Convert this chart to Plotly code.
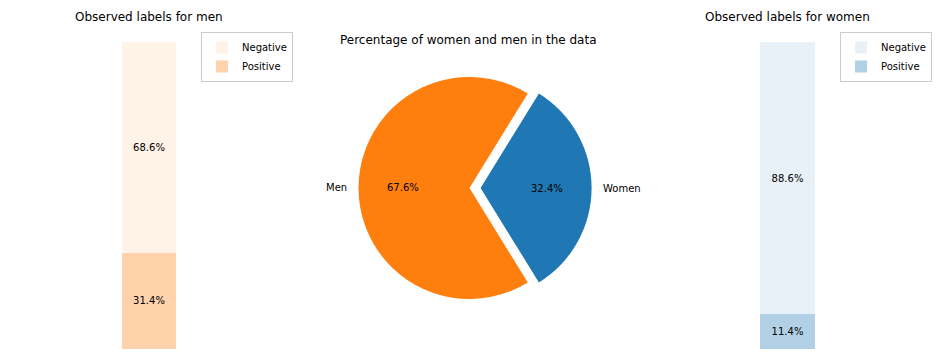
import math
import plotly.graph_objects as go

# ---------------- data ----------------
label_names = ["Negative", "Positive"]
men_label_pct = [68.6, 31.4]
women_label_pct = [88.6, 11.4]
pie_labels = ["Women", "Men"]
pie_pct = [32.4, 67.6]

title_men = "Observed labels for men"
title_women = "Observed labels for women"
title_pie = "Percentage of women and men in the data"

# ---------------- styles ----------------
W, H = 936, 360
FONT = "DejaVu Sans"
orange = (255, 127, 14)
blue = (31, 119, 180)
alphas = {"Negative": 0.1, "Positive": 0.35}


def rgba(c, a):
    return f"rgba({c[0]},{c[1]},{c[2]},{a})"


def px_x(p):
    return p / W


def px_y(p):
    return 1 - p / H


fig = go.Figure()

panels = [("", men_label_pct, orange, "legend"),
          ("2", women_label_pct, blue, "legend2")]

for suffix, vals, col, leg in panels:
    # bottom segment first (Positive), then Negative on top
    for idx in (1, 0):
        name = label_names[idx]
        fig.add_trace(go.Bar(
            x=[0], y=[vals[idx]], name=name,
            width=0.8,
            marker=dict(color=rgba(col, alphas[name]), line=dict(width=0)),
            text=[f"{vals[idx]:.1f}%"], textposition="inside",
            insidetextanchor="middle", textangle=0,
            insidetextfont=dict(color="black", size=10, family=FONT),
            xaxis="x" + suffix, yaxis="y" + suffix,
            legend=leg, legendrank=idx + 1,
            hoverinfo="skip",
        ))

# pie geometry (px)
pie_cx, pie_cy = 469.5, 188.0
pull = 0.1
box_half = 122.1
pie_r = box_half / (1 + pull)

women_frac = pie_pct[0] / 100.0
rotation = 90 - women_frac * 180

fig.add_trace(go.Pie(
    labels=pie_labels, values=pie_pct, sort=False,
    direction="clockwise", rotation=rotation,
    pull=[pull, 0],
    marker=dict(colors=[rgba(blue, 1), rgba(orange, 1)], line=dict(width=0)),
    textinfo="none", showlegend=False, hoverinfo="skip",
    domain=dict(x=[px_x(pie_cx - box_half), px_x(pie_cx + box_half)],
                y=[px_y(pie_cy + box_half), px_y(pie_cy - box_half)]),
))

# pie text annotations (labels at 1.1 r, pct at 0.6 r)
annotations = []
start = -women_frac * 180  # math angle, counterclockwise
cum = 0.0
ann_base = dict(xref="paper", yref="paper", showarrow=False,
                borderpad=0, borderwidth=0)
for lab, v, pl in zip(pie_labels, pie_pct, [pull, 0]):
    frac = v / 100.0
    mid = math.radians(start + (cum + frac / 2) * 360)
    cum += frac
    ox = pie_cx + pl * pie_r * math.cos(mid)
    oy = pie_cy - pl * pie_r * math.sin(mid)
    lx = ox + 1.1 * pie_r * math.cos(mid)
    ly = oy - 1.1 * pie_r * math.sin(mid)
    tx = ox + 0.6 * pie_r * math.cos(mid)
    ty = oy - 0.6 * pie_r * math.sin(mid)
    annotations.append(dict(
        x=px_x(lx), y=px_y(ly), text=lab,
        xanchor="left" if math.cos(mid) > 0 else "right",
        yanchor="middle", font=dict(size=10, color="black", family=FONT),
        **ann_base))
    annotations.append(dict(
        x=px_x(tx), y=px_y(ty), text=f"{v:.1f}%",
        xanchor="center", yanchor="middle",
        font=dict(size=10, color="black", family=FONT), **ann_base))

for t, cx, cy in [(title_men, 149, 17), (title_women, 787.5, 17), (title_pie, 468, 40)]:
    annotations.append(dict(
        x=px_x(cx), y=px_y(cy), text=t,
        xanchor="center", yanchor="middle",
        font=dict(size=12, color="black", family=FONT), **ann_base))

ydom = [px_y(349), px_y(42)]
axis_off = dict(visible=False, showgrid=False, zeroline=False, fixedrange=True)
legend_style = dict(bgcolor="white", bordercolor="#cccccc", borderwidth=1,
                    font=dict(size=10, color="black", family=FONT),
                    xanchor="left", yanchor="top", y=px_y(32),
                    traceorder="normal", tracegroupgap=0,
                    itemclick=False, itemdoubleclick=False)

fig.update_layout(
    width=W, height=H, autosize=False,
    margin=dict(l=0, r=0, t=0, b=0),
    paper_bgcolor="white", plot_bgcolor="white",
    barmode="stack",
    font=dict(family=FONT, size=10, color="black"),
    xaxis=dict(domain=[px_x(12), px_x(286)], range=[-2, 2], anchor="y", **axis_off),
    yaxis=dict(domain=ydom, range=[0, 100], anchor="x", **axis_off),
    xaxis2=dict(domain=[px_x(650.5), px_x(924.5)], range=[-2, 2], anchor="y2", **axis_off),
    yaxis2=dict(domain=ydom, range=[0, 100], anchor="x2", **axis_off),
    legend=dict(x=px_x(201), **legend_style),
    legend2=dict(x=px_x(840), **legend_style),
    annotations=annotations,
)

fig.write_html("out.html", config={"displayModeBar": False},
               post_script="document.body.style.margin='0';")
